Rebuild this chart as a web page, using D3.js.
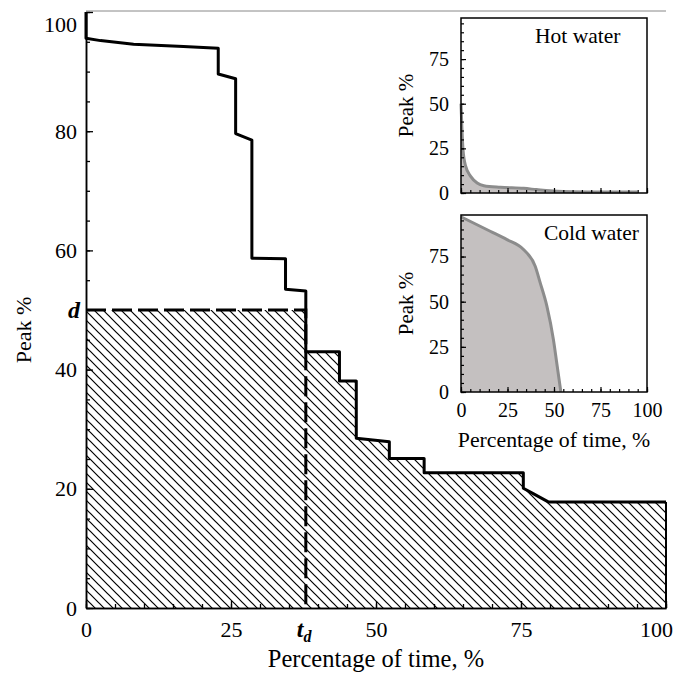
<!DOCTYPE html>
<html>
<head>
<meta charset="utf-8">
<script src="https://cdn.jsdelivr.net/npm/d3@7"></script>
<style>
  body { margin: 0; background: #fff; }
  svg text { font-family: "Liberation Serif", "Times New Roman", serif; fill: #000; }
</style>
</head>
<body>
<svg id="chart" width="673" height="673" font-family="Liberation Serif, Times New Roman, serif"></svg>
<script>
// Combined load-duration curve (percentage of time vs. peak %)
const durationTime = [0, 0, 2.5, 8.2, 16.8, 22.8, 22.8, 25.8, 25.8, 28.6, 28.6, 34.4, 34.4, 37.9, 37.9, 43.7, 43.7, 46.6, 46.6, 52.3, 52.3, 58.3, 58.3, 75.4, 75.4, 77.1, 79.7, 100];
const durationPeak = [100, 95.6, 95.2, 94.6, 94.2, 93.9, 89.6, 88.8, 79.6, 78.5, 58.7, 58.6, 53.5, 53.2, 43.0, 43.0, 38.1, 38.1, 28.5, 27.9, 25.1, 25.1, 22.7, 22.7, 20.1, 19.2, 17.8, 17.8];

// Design level d and the time share t_d at which the curve falls below it
const designPeak = 50;
const designTime = 37.9;

// Hot water duration curve
const hotTime = [0, 1.1, 2.5, 5.2, 8.7, 12.3, 21.2, 33.7, 40.6, 47.9, 55, 70, 95];
const hotPeak = [50, 24, 15, 9.3, 5.6, 4.1, 3.2, 2.6, 1.9, 1.2, 0.8, 0.6, 0.5];

// Cold water duration curve
const coldTime = [0, 15.7, 24.7, 33.6, 39.9, 42.6, 46.2, 49.7, 51.5, 53.7];
const coldPeak = [97, 89, 84.4, 78.9, 69.6, 60.4, 47.4, 28.9, 15.9, 0];

// Axis ticks
const mainYLabels = [0, 20, 40, 60, 80, 100];
const mainXLabels = [0, 25, 50, 75, 100];
const insetYLabels = [0, 25, 50, 75];
const insetXLabels = [0, 25, 50, 75, 100];

const SERIF = "Liberation Serif, Times New Roman, serif";
const svg = d3.select("#chart");

// ---------- main chart ----------
const x = d3.scaleLinear().domain([0, 100]).range([86, 666]);
const y = d3.scaleLinear().domain([0, 100]).range([608, 12]);

const curve = durationTime.map((t, i) => ({ t, p: durationPeak[i] }));

// hatch pattern
const defs = svg.append("defs");
const pat = defs.append("pattern")
  .attr("id", "hatch").attr("patternUnits", "userSpaceOnUse")
  .attr("width", 9).attr("height", 9);
pat.append("path")
  .attr("d", "M-1,-1 L10,10 M-1,8 L1,10 M8,-1 L10,1")
  .attr("stroke", "#000").attr("stroke-width", 1.2);

// hatched area under min(curve, d)
const area = d3.area()
  .x(d => x(d.t))
  .y0(y(0))
  .y1(d => y(Math.min(d.p, designPeak)));
svg.append("path").datum(curve)
  .attr("d", area)
  .attr("fill", "url(#hatch)");

// top rule
svg.append("line")
  .attr("x1", x(0)).attr("x2", x(100))
  .attr("y1", y(100) - 1).attr("y2", y(100) - 1)
  .attr("stroke", "#888").attr("stroke-width", 1);

// duration curve
const line = d3.line().x(d => x(d.t)).y(d => y(d.p));
svg.append("path").datum(curve)
  .attr("d", line)
  .attr("fill", "none").attr("stroke", "#000")
  .attr("stroke-width", 3).attr("stroke-linejoin", "round");
// closing edge at 100 %
const last = curve[curve.length - 1];
svg.append("line")
  .attr("x1", x(last.t)).attr("x2", x(last.t))
  .attr("y1", y(last.p)).attr("y2", y(0))
  .attr("stroke", "#000").attr("stroke-width", 2);

// dashed design lines
svg.append("path")
  .attr("d", `M${x(0)},${y(designPeak)} H${x(designTime)} V${y(0)}`)
  .attr("fill", "none").attr("stroke", "#000")
  .attr("stroke-width", 3).attr("stroke-dasharray", "20,6");

// axes
const minorY = d3.range(0, 101, 5);
const minorX = d3.range(0, 101, 5);

const gyMinor = svg.append("g").attr("transform", `translate(${x(0)},0)`)
  .call(d3.axisLeft(y).tickValues(minorY).tickSizeInner(-4).tickSizeOuter(0).tickFormat(""));
const gy = svg.append("g").attr("transform", `translate(${x(0)},0)`)
  .call(d3.axisLeft(y).tickValues(mainYLabels).tickSizeInner(-7).tickSizeOuter(0).tickPadding(9));
const gxMinor = svg.append("g").attr("transform", `translate(0,${y(0)})`)
  .call(d3.axisBottom(x).tickValues(minorX).tickSizeInner(-4).tickSizeOuter(0).tickFormat(""));
const gx = svg.append("g").attr("transform", `translate(0,${y(0)})`)
  .call(d3.axisBottom(x).tickValues(mainXLabels).tickSizeInner(-7).tickSizeOuter(0).tickPadding(13));

[gyMinor, gy, gxMinor, gx].forEach(g => {
  g.attr("font-family", SERIF).attr("font-size", 22);
  g.selectAll("path.domain").attr("stroke", "#000").attr("stroke-width", 1.5);
  g.selectAll(".tick line").attr("stroke", "#000").attr("stroke-width", 1.3);
  g.selectAll(".tick text").attr("font-size", 22).attr("font-family", SERIF);
});
gy.selectAll(".tick text").filter(d => d === 100).attr("dy", "0.9em");
gx.selectAll(".tick text").filter(d => d === 100).attr("dx", -10);

// d and t_d labels
svg.append("text")
  .attr("x", x(0) - 6).attr("y", y(designPeak)).attr("dy", "0.33em")
  .attr("text-anchor", "end")
  .attr("font-size", 24).attr("font-weight", "bold").attr("font-style", "italic")
  .text("d");
const td = svg.append("text")
  .attr("x", x(designTime) - 9).attr("y", 637)
  .attr("font-size", 24).attr("font-weight", "bold").attr("font-style", "italic");
td.append("tspan").text("t");
td.append("tspan").attr("font-size", 16).attr("dy", 5).text("d");

// axis titles
svg.append("text")
  .attr("transform", `translate(31,330) rotate(-90)`)
  .attr("text-anchor", "middle").attr("font-size", 22)
  .text("Peak %");
svg.append("text")
  .attr("x", 376).attr("y", 667)
  .attr("text-anchor", "middle").attr("font-size", 24.5)
  .text("Percentage of time, %");

// ---------- insets ----------
function drawInset(cfg) {
  const ix = d3.scaleLinear().domain([0, 100]).range([cfg.left, cfg.right]);
  const iy = d3.scaleLinear().domain([0, 98]).range([cfg.bottom, cfg.top]);
  const g = svg.append("g");
  g.append("rect")
    .attr("x", cfg.left).attr("y", cfg.top)
    .attr("width", cfg.right - cfg.left).attr("height", cfg.bottom - cfg.top)
    .attr("fill", "#fff");

  const pts = cfg.time.map((t, i) => ({ t, p: cfg.peak[i] }));
  g.append("path").datum(pts)
    .attr("d", d3.area().x(d => ix(d.t)).y0(iy(0)).y1(d => iy(d.p)).curve(d3.curveMonotoneX))
    .attr("fill", "#c4c0c0");
  g.append("path").datum(pts)
    .attr("d", d3.line().x(d => ix(d.t)).y(d => iy(d.p)).curve(d3.curveMonotoneX))
    .attr("fill", "none").attr("stroke", "#8c8c8c").attr("stroke-width", 3);

  const yMinor = d3.axisLeft(iy).tickValues(d3.range(0, 96, 5)).tickSizeInner(-3).tickSizeOuter(0).tickFormat("");
  const yMajor = d3.axisLeft(iy).tickValues(insetYLabels).tickSizeInner(-5).tickSizeOuter(0).tickPadding(12);
  const xMinor = d3.axisBottom(ix).tickValues(d3.range(0, 101, 5)).tickSizeInner(-3).tickSizeOuter(0).tickFormat("");
  const xMajor = d3.axisBottom(ix).tickValues(insetXLabels).tickSizeInner(-5).tickSizeOuter(0).tickPadding(11);
  if (!cfg.xLabels) xMajor.tickFormat("");

  const axes = [
    g.append("g").attr("transform", `translate(${cfg.left},0)`).call(yMinor),
    g.append("g").attr("transform", `translate(${cfg.left},0)`).call(yMajor),
    g.append("g").attr("transform", `translate(0,${cfg.bottom})`).call(xMinor),
    g.append("g").attr("transform", `translate(0,${cfg.bottom})`).call(xMajor)
  ];
  axes.forEach(a => {
    a.attr("font-family", SERIF).attr("font-size", 20);
    a.selectAll("path.domain").attr("stroke", "none");
    a.selectAll(".tick line").attr("stroke", "#000").attr("stroke-width", 1.2);
    a.selectAll(".tick text").attr("font-size", 20).attr("font-family", SERIF);
  });

  g.append("rect")
    .attr("x", cfg.left).attr("y", cfg.top)
    .attr("width", cfg.right - cfg.left).attr("height", cfg.bottom - cfg.top)
    .attr("fill", "none").attr("stroke", "#000").attr("stroke-width", 1.5);

  g.append("text")
    .attr("x", cfg.titleX).attr("y", cfg.titleY)
    .attr("font-size", 21.5).text(cfg.title);
  g.append("text")
    .attr("transform", `translate(413,${(cfg.top + cfg.bottom) / 2}) rotate(-90)`)
    .attr("text-anchor", "middle").attr("font-size", 21)
    .text("Peak %");
  if (cfg.xLabels) {
    g.append("text")
      .attr("x", (cfg.left + cfg.right) / 2).attr("y", 447)
      .attr("text-anchor", "middle").attr("font-size", 21.8)
      .text("Percentage of time, %");
  }
}

drawInset({ left: 461, right: 647, top: 18, bottom: 193, time: hotTime, peak: hotPeak,
  title: "Hot water", titleX: 535, titleY: 43, xLabels: false });
drawInset({ left: 461, right: 647, top: 215, bottom: 392, time: coldTime, peak: coldPeak,
  title: "Cold water", titleX: 544, titleY: 240, xLabels: true });
</script>
</body>
</html>
